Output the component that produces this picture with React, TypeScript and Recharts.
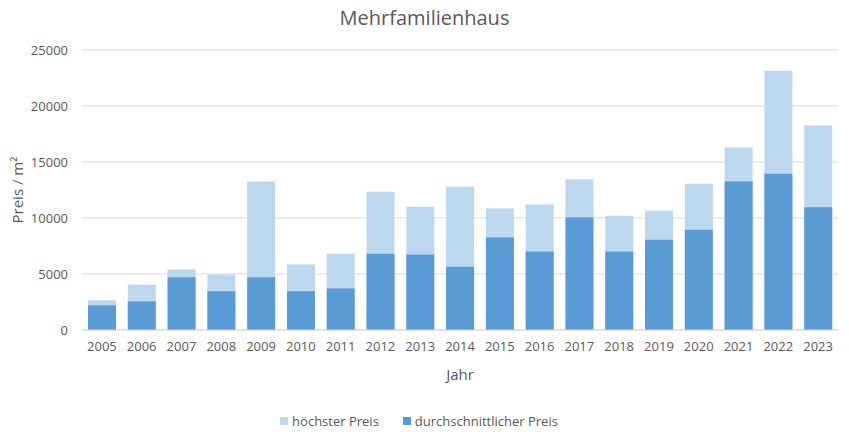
import { BarChart, Bar, XAxis, YAxis, CartesianGrid, Legend } from 'recharts'

const years = ['2005', '2006', '2007', '2008', '2009', '2010', '2011', '2012', '2013', '2014', '2015', '2016', '2017', '2018', '2019', '2020', '2021', '2022', '2023']
const highest = [2650, 4050, 5400, 4950, 13250, 5850, 6800, 12350, 11000, 12800, 10850, 11200, 13450, 10200, 10650, 13050, 16300, 23150, 18250]
const average = [2200, 2550, 4700, 3450, 4700, 3450, 3700, 6800, 6750, 5650, 8250, 7000, 10050, 7000, 8050, 8950, 13250, 13950, 10950]
const yTicks = [0, 5000, 10000, 15000, 20000, 25000]

const LIGHT = '#BDD7EE'
const DARK = '#5B9BD5'
const TEXT = '#595959'
const FONT = '"Open Sans", "Liberation Sans", sans-serif'

const legendItems = [
  { label: 'höchster Preis', color: LIGHT },
  { label: 'durchschnittlicher Preis', color: DARK },
]

function LegendContent() {
  return (
    <div style={{ height: 56, boxSizing: 'border-box', paddingTop: 25, display: 'flex', justifyContent: 'center', gap: 24, fontSize: 13, fontFamily: FONT, color: TEXT }}>
      {legendItems.map(item => (
        <div key={item.label} style={{ display: 'flex', alignItems: 'center', gap: 4, lineHeight: '16px' }}>
          <div style={{ width: 8, height: 8, background: item.color }} />
          <span>{item.label}</span>
        </div>
      ))}
    </div>
  )
}

export default function App() {
  const data = years.map((year, i) => ({ year, highest: highest[i], average: average[i] }))

  return (
    <div style={{ position: 'absolute', left: 0, top: 0, width: 849, height: 436, background: '#fff', fontFamily: FONT }}>
      <div style={{ position: 'absolute', top: 4, width: 849, textAlign: 'center', fontSize: 20, color: TEXT }}>
        Mehrfamilienhaus
      </div>
      <BarChart
        width={849}
        height={436}
        data={data}
        margin={{ top: 50, right: 11, left: 0, bottom: 0 }}
        barSize={28}
        barGap={-28}
      >
        <CartesianGrid vertical={false} stroke="#D9D9D9" />
        <XAxis
          dataKey="year"
          height={50}
          tickLine={false}
          axisLine={{ stroke: '#D9D9D9' }}
          tick={{ fill: TEXT, fontSize: 13, fontFamily: FONT }}
          tickMargin={6}
          label={{ value: 'Jahr', position: 'insideBottom', offset: 0, fill: TEXT, fontSize: 15, fontFamily: FONT }}
        />
        <YAxis
          width={82}
          domain={[0, 25000]}
          ticks={yTicks}
          tickLine={false}
          axisLine={false}
          tick={{ fill: TEXT, fontSize: 13, fontFamily: FONT }}
          tickMargin={8}
          label={{ value: 'Preis / m²', angle: -90, position: 'insideLeft', offset: 18, fill: TEXT, fontSize: 15, fontFamily: FONT, style: { textAnchor: 'middle' } }}
        />
        <Legend verticalAlign="bottom" content={<LegendContent />} />
        <Bar dataKey="highest" name="höchster Preis" fill={LIGHT} isAnimationActive={false} />
        <Bar dataKey="average" name="durchschnittlicher Preis" fill={DARK} isAnimationActive={false} />
      </BarChart>
    </div>
  )
}
